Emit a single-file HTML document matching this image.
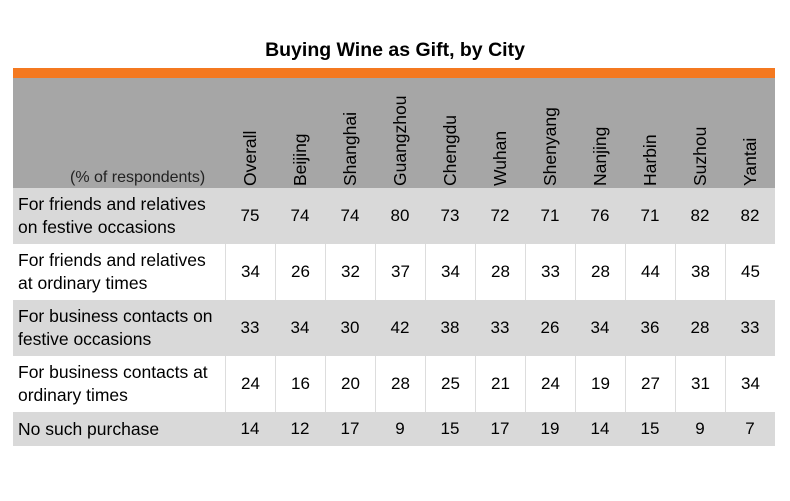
<!DOCTYPE html>
<html><head><meta charset="utf-8"><style>
body{margin:0;width:790px;height:501px;background:#fff;font-family:"Liberation Sans",Arial,sans-serif;position:relative;overflow:hidden;color:#000}
.a{position:absolute}
.title{left:0;width:790px;top:39px;text-align:center;font-weight:bold;font-size:19.5px}
.cell{position:absolute;display:flex;align-items:center;justify-content:center;font-size:17px}
.lab{position:absolute;font-size:17.5px;line-height:23px;display:flex;align-items:center;left:18px;width:207px}
.vh{position:absolute;font-size:17.5px;line-height:20px;white-space:nowrap;transform-origin:left top;transform:rotate(-90deg)}
</style></head><body>
<div class="a title">Buying Wine as Gift, by City</div>
<div class="a" style="left:13px;top:68px;width:762px;height:10px;background:#f47920"></div>
<div class="a" style="left:13px;top:78px;width:762px;height:110px;background:#a6a6a6"></div>
<div class="a" style="left:70px;top:169px;font-size:16px;color:#222">(% of respondents)</div>
<div id="t"></div>
<script>
const cities=["Overall","Beijing","Shanghai","Guangzhou","Chengdu","Wuhan","Shenyang","Nanjing","Harbin","Suzhou","Yantai"];
const rowLabels=["For friends and relatives<br>on festive occasions","For friends and relatives<br>at ordinary times","For business contacts on<br>festive occasions","For business contacts at<br>ordinary times","No such purchase"];
const r1=[75,74,74,80,73,72,71,76,71,82,82];
const r2=[34,26,32,37,34,28,33,28,44,38,45];
const r3=[33,34,30,42,38,33,26,34,36,28,33];
const r4=[24,16,20,28,25,21,24,19,27,31,34];
const r5=[14,12,17,9,15,17,19,14,15,9,7];
const rows=[r1,r2,r3,r4,r5];
const tops=[188,244,300,356,412], hs=[56,56,56,56,34];
const colX=i=>225+i*50;
const t=document.getElementById('t');
cities.forEach((c,i)=>{
  const d=document.createElement('div');d.className='vh';d.textContent=c;
  
  
  d.style.left=(colX(i)+15)+'px';d.style.top='186px';
  t.appendChild(d);
});
rows.forEach((vals,r)=>{
  const bg=r%2===0?'#d9d9d9':'#fff';
  const row=document.createElement('div');row.className='a';
  
  
  row.style.cssText=`left:13px;top:${tops[r]}px;width:762px;height:${hs[r]}px;background:${bg}`;
  t.appendChild(row);
  const l=document.createElement('div');l.className='lab';l.innerHTML=rowLabels[r];
  
  
  l.style.top=tops[r]+'px';l.style.height=hs[r]+'px';
  t.appendChild(l);
  vals.forEach((v,i)=>{
    const c=document.createElement('div');c.className='cell';c.textContent=v;
    
    
    c.style.left=colX(i)+'px';c.style.top=tops[r]+'px';c.style.width='50px';c.style.height=hs[r]+'px';
    if(r%2===1)c.style.borderLeft='1px solid #ddd';
    c.style.boxSizing='border-box';
    t.appendChild(c);
  });
});
</script>
</body></html>
